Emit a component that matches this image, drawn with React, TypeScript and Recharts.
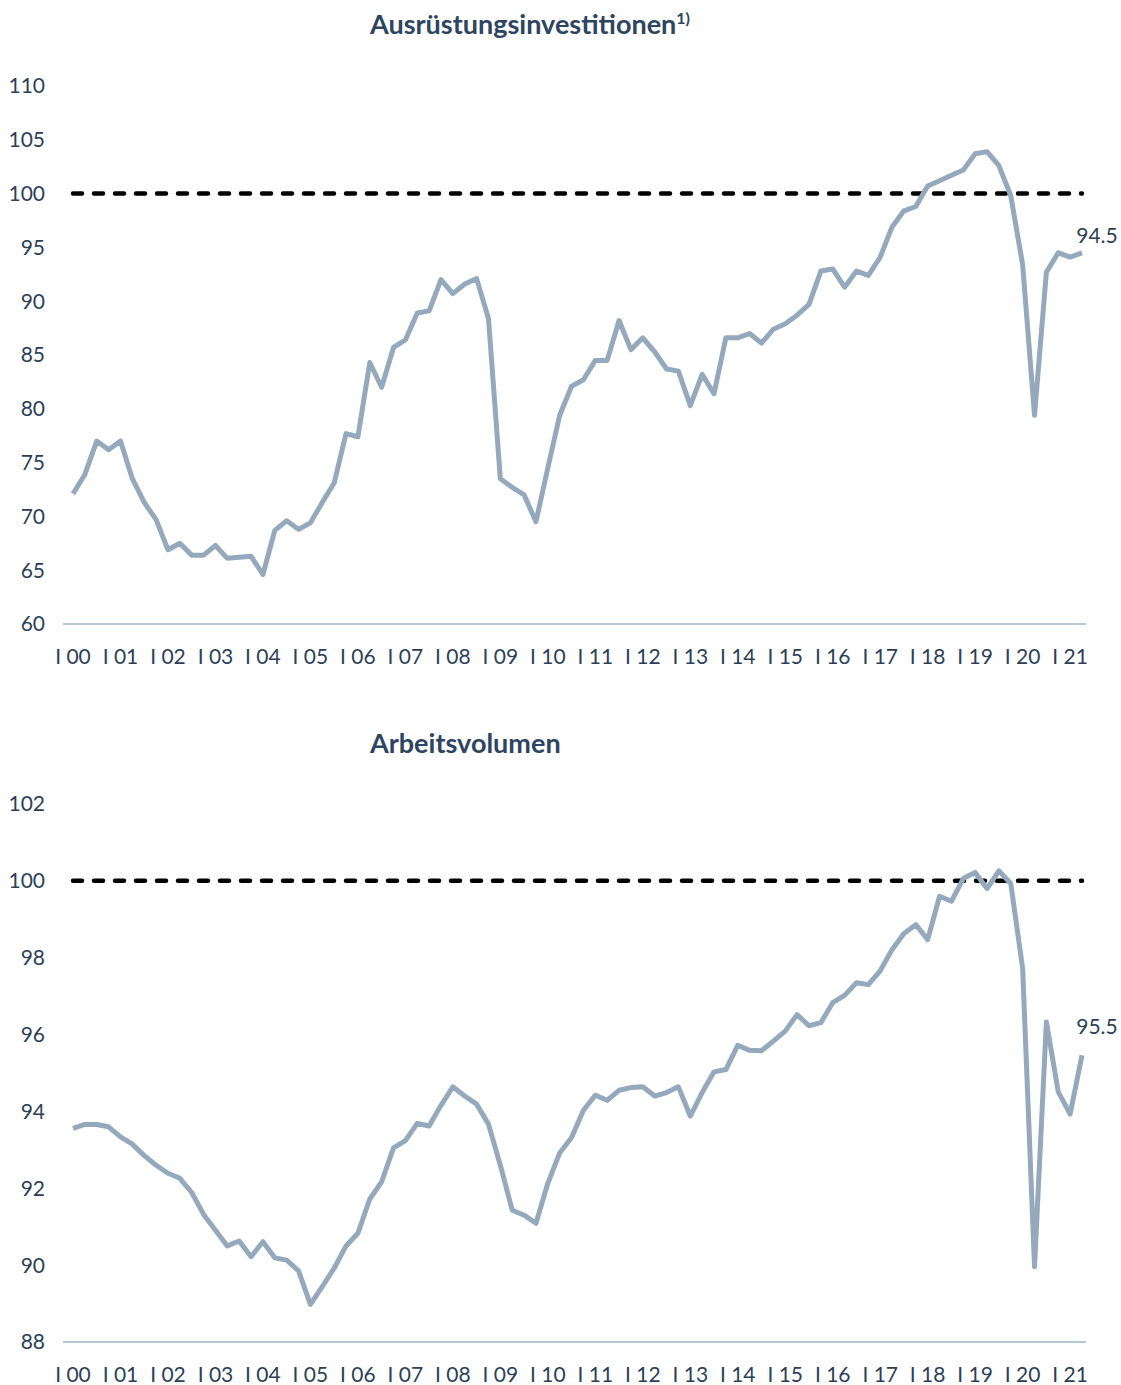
import React from "react";
import { LineChart, Line, XAxis, YAxis, ReferenceLine } from "recharts";

const years = ["00", "01", "02", "03", "04", "05", "06", "07", "08", "09", "10", "11", "12", "13", "14", "15", "16", "17", "18", "19", "20", "21"];
const quarterNames = ["I", "II", "III", "IV"];
const quarters = years.flatMap((y) => quarterNames.map((q) => `${q} ${y}`)).slice(0, 86);

// Ausrüstungsinvestitionen, index
const equipment = [
  72.1, 73.9, 77.0, 76.2, 77.0, 73.5, 71.3, 69.7, 66.9, 67.5,
  66.4, 66.4, 67.3, 66.1, 66.2, 66.3, 64.6, 68.7, 69.6, 68.8,
  69.4, 71.3, 73.1, 77.7, 77.4, 84.3, 82.0, 85.7, 86.4, 88.9,
  89.1, 92.0, 90.7, 91.6, 92.1, 88.4, 73.5, 72.7, 72.0, 69.5,
  74.5, 79.4, 82.1, 82.7, 84.5, 84.5, 88.2, 85.5, 86.6, 85.3,
  83.7, 83.5, 80.3, 83.2, 81.4, 86.6, 86.6, 87.0, 86.1, 87.4,
  87.9, 88.7, 89.7, 92.8, 93.0, 91.3, 92.8, 92.4, 94.1, 96.9,
  98.4, 98.8, 100.7, 101.2, 101.7, 102.2, 103.7, 103.9, 102.6, 99.8,
  93.4, 79.4, 92.7, 94.5, 94.1, 94.5,
];

// Arbeitsvolumen, index
const workVolume = [
  93.56, 93.66, 93.66, 93.6, 93.34, 93.15, 92.85, 92.6, 92.39, 92.26,
  91.89, 91.32, 90.91, 90.5, 90.63, 90.22, 90.61, 90.19, 90.13, 89.85,
  88.98, 89.44, 89.92, 90.5, 90.83, 91.72, 92.17, 93.05, 93.24, 93.69,
  93.62, 94.16, 94.64, 94.4, 94.19, 93.67, 92.6, 91.43, 91.3, 91.09,
  92.13, 92.92, 93.32, 94.03, 94.42, 94.29, 94.55, 94.62, 94.64, 94.4,
  94.49, 94.64, 93.88, 94.49, 95.03, 95.09, 95.72, 95.59, 95.58, 95.83,
  96.09, 96.52, 96.23, 96.31, 96.83, 97.02, 97.35, 97.3, 97.66, 98.21,
  98.63, 98.86, 98.47, 99.6, 99.47, 100.06, 100.22, 99.8, 100.26, 99.93,
  97.72, 89.96, 96.33, 94.51, 93.93, 95.46,
];

const equipmentTicks = [60, 65, 70, 75, 80, 85, 90, 95, 100, 105, 110];
const workTicks = [88, 90, 92, 94, 96, 98, 100, 102];

const FONT = "Lato, 'Open Sans', sans-serif";
const TEXT = "#2c3f57";
const LINE = "#95a9bc";

const endLabel = (dy: number) => (props: any) => {
  const { x, y, index, value } = props;
  if (index !== quarters.length - 1) return <g key={`l${index}`} />;
  return (
    <text key={`l${index}`} x={x + 15} y={y + dy} textAnchor="middle" fill={TEXT} fontSize={21} fontFamily={FONT}>
      {Number(value).toFixed(1)}
    </text>
  );
};

const Panel = ({ values, ticks, domain, height, bottom, labelDy }: any) => {
  const data = quarters.map((q, i) => ({ q, v: values[i] }));
  return (
    <LineChart width={1121} height={height} data={data} margin={{ top: 86, right: 35, bottom, left: 0 }}>
      <XAxis
        dataKey="q"
        interval={3}
        height={40}
        padding={{ left: 10, right: 4 }}
        axisLine={{ stroke: "#b7c7d6", strokeWidth: 2 }}
        tickLine={false}
        tickSize={0}
        tickMargin={25}
        tick={{ fill: TEXT, fontSize: 21, fontFamily: FONT }}
      />
      <YAxis
        domain={domain}
        ticks={ticks}
        width={63}
        axisLine={false}
        tickLine={false}
        tickSize={0}
        tickMargin={18}
        tick={{ fill: TEXT, fontSize: 21, fontFamily: FONT }}
      />
      <ReferenceLine
        segment={[{ x: quarters[0], y: 100 }, { x: quarters[quarters.length - 1], y: 100 }]}
        stroke="#000"
        strokeWidth={4.5}
        strokeDasharray="9 12"
        strokeLinecap="round"
      />
      <Line
        dataKey="v"
        stroke={LINE}
        strokeWidth={5}
        strokeLinejoin="round"
        dot={false}
        isAnimationActive={false}
        label={endLabel(labelDy)}
      />
    </LineChart>
  );
};

const titleStyle: React.CSSProperties = {
  position: "absolute",
  left: 370,
  fontFamily: FONT,
  fontWeight: 700,
  fontSize: 27,
  lineHeight: "32px",
  color: "#2d4561",
  whiteSpace: "nowrap",
};

export default function App() {
  return (
    <div style={{ position: "absolute", left: 0, top: 0, width: 1121, height: 1385, background: "#fff" }}>
      <div style={{ ...titleStyle, top: 8 }}>
        Ausrüstungsinvestitionen<sup style={{ fontSize: 16, lineHeight: 0 }}>1)</sup>
      </div>
      <div style={{ ...titleStyle, top: 727 }}>Arbeitsvolumen</div>
      <div style={{ position: "absolute", left: 0, top: 0 }}>
        <Panel values={equipment} ticks={equipmentTicks} domain={[60, 110]} height={700} bottom={36} labelDy={-10} />
      </div>
      <div style={{ position: "absolute", left: 0, top: 718 }}>
        <Panel values={workVolume} ticks={workTicks} domain={[88, 102]} height={667} bottom={3} labelDy={-21} />
      </div>
    </div>
  );
}
